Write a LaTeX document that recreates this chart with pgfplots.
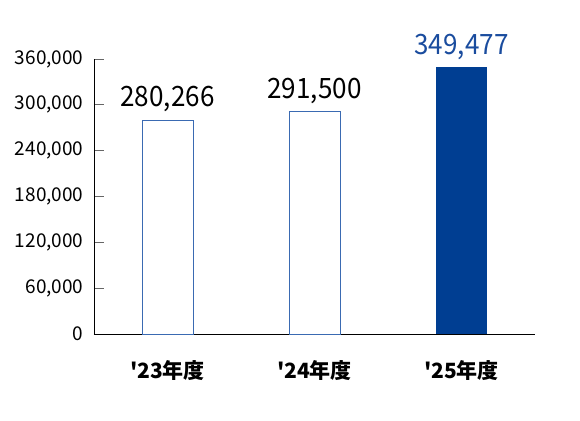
\documentclass[border=0pt]{standalone}
\usepackage{fontspec}
\setmainfont{Noto Sans CJK JP}
\newfontfamily\valuefont{Noto Sans CJK JP}[FakeStretch=0.93]
\usepackage{pgfplots}
\pgfplotsset{compat=1.18}
\definecolor{barblue}{HTML}{003E92}
\definecolor{edgeblue}{HTML}{3A6AB2}
\definecolor{labelblue}{HTML}{1A4C9E}
\begin{document}
\begin{tikzpicture}
\begin{axis}[
  scale only axis,
  width=441pt, height=275pt,
  at={(0,0)}, anchor=south west,
  xmin=-0.5, xmax=2.5,
  ymin=0, ymax=360000,
  axis x line=bottom, axis y line=left,
  axis line style={-, black, line width=0.8pt},
  xtick={0,1,2},
  xticklabels={\textquotesingle23年度,\textquotesingle24年度,\textquotesingle25年度},
  x tick label style={font=\fontsize{21}{23}\selectfont\bfseries, yshift=-13pt},
  major x tick style={draw=none},
  ytick={0,60000,120000,180000,240000,300000,360000},
  scaled y ticks=false,
  /pgf/number format/.cd, 1000 sep={,}, fixed, precision=0, assume math mode=true,
  /pgfplots/.cd,
  y tick label style={font=\fontsize{19}{21}\selectfont, xshift=-7pt},
  ytick style={draw=gray!80!black, line width=0.8pt},
  major tick length=10pt,
  tick align=inside,
  ybar, bar width=51pt, bar shift=0pt,
  clip=false,
  nodes near coords,
  nodes near coords style={font=\valuefont\fontsize{28}{30}\selectfont, yshift=4pt},
]
\addplot[draw=edgeblue, fill=white, line width=0.8pt] coordinates {(0,280266)};
\addplot[draw=edgeblue, fill=white, line width=0.8pt] coordinates {(1,291500)};
\addplot[draw=none, fill=barblue,
  nodes near coords style={text=labelblue}] coordinates {(2,349477)};
\end{axis}
\path[use as bounding box] (-94pt,-86pt) rectangle (486pt,334pt);
\end{tikzpicture}
\end{document}
